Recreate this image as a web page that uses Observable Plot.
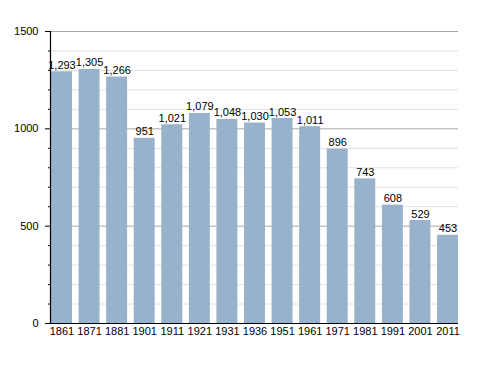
<!DOCTYPE html>
<html>
<head>
<meta charset="utf-8">
<script src="https://cdn.jsdelivr.net/npm/d3@7"></script>
<script src="https://cdn.jsdelivr.net/npm/@observablehq/plot@0.6"></script>
<style>
  html, body { margin: 0; padding: 0; background: #fff; }
  #chart svg { display: block; }
</style>
</head>
<body>
<div id="chart"></div>
<script>
const years = ["1861","1871","1881","1901","1911","1921","1931","1936","1951","1961","1971","1981","1991","2001","2011"];
const population = [1293,1305,1266,951,1021,1079,1048,1030,1053,1011,896,743,608,529,453];
const majorTicks = [0, 500, 1000, 1500];
const minorTicks = [100,200,300,400,600,700,800,900,1100,1200,1300,1400];

const data = years.map((y, i) => ({year: y, value: population[i]}));
const fmt = d3.format(",");

const chart = Plot.plot({
  width: 488,
  height: 373,
  marginTop: 31,
  marginBottom: 50,
  marginLeft: 50,
  marginRight: 30,
  style: {fontFamily: "'Liberation Sans', Arial, sans-serif", fontSize: "11px", color: "#000", background: "#fff"},
  x: {domain: years, paddingInner: 0.24, paddingOuter: 0, insetLeft: 1, round: false, label: null},
  y: {domain: [0, 1500], label: null},
  marks: [
    Plot.ruleY(minorTicks, {stroke: "#e2e2e2", strokeWidth: 1}),
    Plot.ruleY(majorTicks.filter(d => d > 0), {stroke: "#a8a8a8", strokeWidth: 1}),
    Plot.barY(data, {x: "year", y: "value", fill: "#99b2cb"}),
    Plot.text(data, {x: "year", y: "value", text: d => fmt(d.value), lineAnchor: "bottom", dy: -3, fill: "#000", fontSize: 11}),
    Plot.axisY(majorTicks, {tickSize: 5, tickPadding: 7, tickFormat: d3.format("d"), stroke: "#000", fill: "#000", fontSize: 11, label: null}),
    Plot.axisY(minorTicks, {tickSize: 2, text: null, stroke: "#000", label: null}),
    Plot.axisX({tickSize: 0, tickPadding: 4, fill: "#000", fontSize: 11, label: null}),
    Plot.ruleY([0], {stroke: "#000", strokeWidth: 1.2}),
    Plot.frame({anchor: "left", stroke: "#000", strokeWidth: 1.2})
  ]
});
document.getElementById("chart").appendChild(chart);
</script>
</body>
</html>
